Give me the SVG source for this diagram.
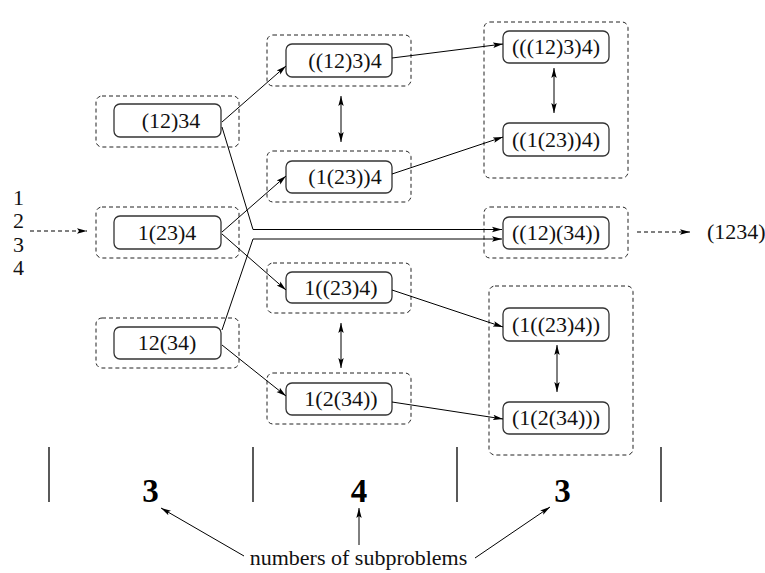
<svg xmlns="http://www.w3.org/2000/svg" width="765" height="573" viewBox="0 0 765 573" font-family="Liberation Serif">
<style>
.bg{fill:#fff}
.outer{fill:none;stroke:#222;stroke-width:1;stroke-dasharray:4 3}
.inner{fill:#fff;stroke:#333;stroke-width:1.3}
.t{font-size:22px;fill:#111;text-anchor:middle}
.lbl{font-size:22px;fill:#111}
.big{font-size:33px;font-weight:bold;fill:#000;text-anchor:middle}
.c{fill:none;stroke:#000;stroke-width:1;marker-end:url(#ah)}
.d{fill:none;stroke:#000;stroke-width:1;marker-start:url(#ah);marker-end:url(#ah)}
.dash{fill:none;stroke:#000;stroke-width:1;stroke-dasharray:4 3;marker-end:url(#ah)}
.sep{stroke:#000;stroke-width:1.3}
</style>
<defs>
<marker id="ah" markerUnits="userSpaceOnUse" markerWidth="12" markerHeight="8" refX="10" refY="4" orient="auto-start-reverse">
<path d="M0,1.3 L10,4 L0,6.7 L2,4 z" fill="#000"/>
</marker>
</defs>
<rect class="bg" x="0" y="0" width="765" height="573"/>

<g id="input">
<text class="lbl" x="13" y="205" font-family="Liberation Serif">1</text>
<text class="lbl" x="13" y="228" font-family="Liberation Serif">2</text>
<text class="lbl" x="13" y="252" font-family="Liberation Serif">3</text>
<text class="lbl" x="13" y="275" font-family="Liberation Serif">4</text>
</g>

<g id="n_12_34">
<rect class="outer" x="96" y="96" width="143" height="51" rx="6"/>
<rect class="inner" x="114" y="104" width="107" height="33" rx="6"/>
<text class="t" x="171" y="128" font-family="Liberation Serif">(12)34</text>
</g>
<g id="n_1_23_4">
<rect class="outer" x="96" y="207" width="143" height="51" rx="6"/>
<rect class="inner" x="114" y="216" width="107" height="33" rx="6"/>
<text class="t" x="167" y="240" font-family="Liberation Serif">1(23)4</text>
</g>
<g id="n_12_34b">
<rect class="outer" x="96" y="318" width="143" height="50" rx="6"/>
<rect class="inner" x="114" y="327" width="107" height="32" rx="6"/>
<text class="t" x="167" y="350" font-family="Liberation Serif">12(34)</text>
</g>

<g id="n_a">
<rect class="outer" x="267" y="35" width="144" height="51" rx="6"/>
<rect class="inner" x="286" y="44" width="106" height="33" rx="6"/>
<text class="t" x="345" y="68" font-family="Liberation Serif">((12)3)4</text>
</g>
<g id="n_b">
<rect class="outer" x="267" y="151" width="144" height="51" rx="6"/>
<rect class="inner" x="286" y="161" width="106" height="32" rx="6"/>
<text class="t" x="345" y="184" font-family="Liberation Serif">(1(23))4</text>
</g>
<g id="n_c">
<rect class="outer" x="267" y="263" width="144" height="50" rx="6"/>
<rect class="inner" x="286" y="272" width="106" height="31" rx="6"/>
<text class="t" x="341" y="295" font-family="Liberation Serif">1((23)4)</text>
</g>
<g id="n_d">
<rect class="outer" x="267" y="373" width="144" height="51" rx="6"/>
<rect class="inner" x="286" y="383" width="106" height="32" rx="6"/>
<text class="t" x="341" y="406" font-family="Liberation Serif">1(2(34))</text>
</g>

<g id="g_top">
<rect class="outer" x="484" y="22" width="144" height="156" rx="6"/>
</g>
<g id="n_e">
<rect class="inner" x="503" y="31" width="106" height="32" rx="6"/>
<text class="t" x="556" y="54" font-family="Liberation Serif">(((12)3)4)</text>
</g>
<g id="n_f">
<rect class="inner" x="503" y="123" width="106" height="33" rx="6"/>
<text class="t" x="556" y="147" font-family="Liberation Serif">((1(23))4)</text>
</g>
<g id="n_g">
<rect class="outer" x="484" y="207" width="144" height="51" rx="6"/>
<rect class="inner" x="503" y="217" width="106" height="32" rx="6"/>
<text class="t" x="556" y="240" font-family="Liberation Serif">((12)(34))</text>
</g>
<g id="g_bot">
<rect class="outer" x="489" y="286" width="144" height="169" rx="6"/>
</g>
<g id="n_h">
<rect class="inner" x="503" y="308" width="106" height="33" rx="6"/>
<text class="t" x="556" y="332" font-family="Liberation Serif">(1((23)4))</text>
</g>
<g id="n_i">
<rect class="inner" x="503" y="402" width="106" height="32" rx="6"/>
<text class="t" x="556" y="425" font-family="Liberation Serif">(1(2(34)))</text>
</g>

<g id="output">
<text class="lbl" x="707" y="239" font-family="Liberation Serif">(1234)</text>
</g>

<g id="connectors">
<path class="dash" d="M30,231 L87,231"/>
<path class="dash" d="M637,232 L690,232"/>
<path class="c" d="M222,122 L286,66"/>
<path class="c" d="M222,127 L253,229.5 L502,229.5"/>
<path class="c" d="M222,232 L286,176"/>
<path class="c" d="M222,234 L286,290"/>
<path class="c" d="M222,330 L253,239 L502,239"/>
<path class="c" d="M222,345 L286,396"/>
<path class="c" d="M392,58 L503,44"/>
<path class="c" d="M392,174 L503,137"/>
<path class="c" d="M392,290 L503,327"/>
<path class="c" d="M392,402 L503,419"/>
<path class="d" d="M341,96 L341,142"/>
<path class="d" d="M341,323 L341,368"/>
<path class="d" d="M554,68 L554,113"/>
<path class="d" d="M557,345 L557,392"/>
</g>

<g id="footer">
<line class="sep" x1="49" y1="447" x2="49" y2="502"/>
<line class="sep" x1="253" y1="447" x2="253" y2="502"/>
<line class="sep" x1="457" y1="447" x2="457" y2="502"/>
<line class="sep" x1="661" y1="447" x2="661" y2="502"/>
<text class="big" x="150.5" y="502" font-family="Liberation Serif">3</text>
<text class="big" x="359" y="502" font-family="Liberation Serif">4</text>
<text class="big" x="562.5" y="502" font-family="Liberation Serif">3</text>
<text class="t" x="358.5" y="565" font-family="Liberation Serif">numbers of subproblems</text>
<path class="c" d="M244,556 L161,508"/>
<path class="c" d="M359,545 L359,508"/>
<path class="c" d="M475,558 L550,507"/>
</g>
</svg>
